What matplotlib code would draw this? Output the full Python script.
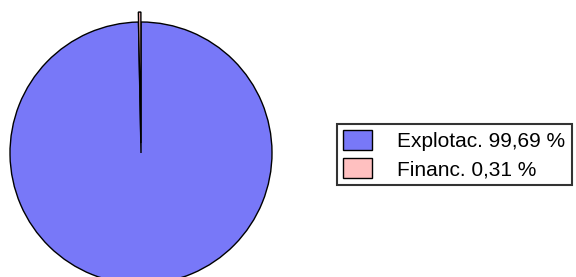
import matplotlib
matplotlib.use("Agg")
import matplotlib.pyplot as plt

labels = ["Explotac. 99,69 %", "Financ. 0,31 %"]
values = [99.69, 0.31]
colors = ["#7878f8", "#ffc0c0"]
explode = [0.0, 0.076]

W, H = 576, 277
fig = plt.figure(figsize=(W / 100, H / 100), dpi=100)
fig.patch.set_facecolor("white")

cx, cy, r = 141, 153, 131
ax = fig.add_axes([(cx - r) / W, (H - cy - r) / H, 2 * r / W, 2 * r / H])
wedges, _ = ax.pie(values, colors=colors, explode=explode, startangle=90,
                   counterclock=False, radius=1.0,
                   wedgeprops=dict(edgecolor="black", linewidth=1.0))
ax.set_xlim(-1, 1)
ax.set_ylim(-1, 1)
ax.set_aspect("equal")
ax.axis("off")

leg = fig.legend(wedges, labels, loc="upper left",
                 bbox_to_anchor=(337 / W, 1 - 124 / H),
                 prop={"family": "Liberation Sans", "size": 15},
                 frameon=True, fancybox=False, edgecolor="black",
                 handlelength=1.4, handleheight=1.05, handletextpad=1.2,
                 borderpad=0.3, labelspacing=0.35, borderaxespad=0.0)
leg.get_frame().set_linewidth(1.5)
for h in leg.legend_handles:
    h.set_edgecolor("black")
    h.set_linewidth(1.0)

fig.savefig("out.png", dpi=100)
